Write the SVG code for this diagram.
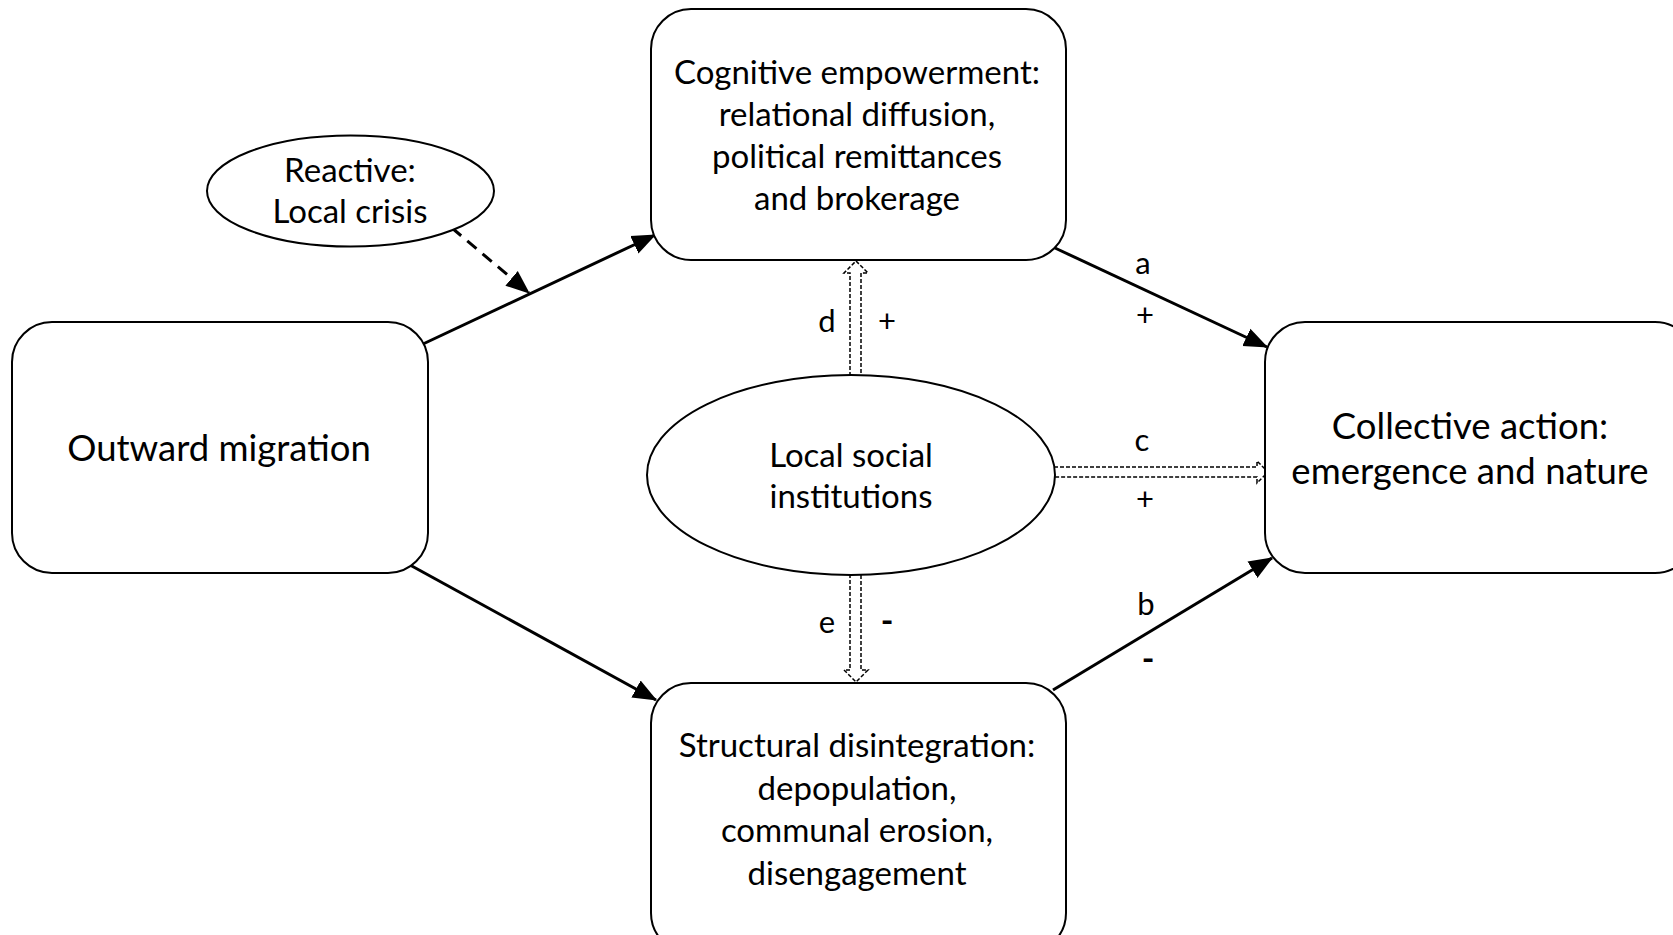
<svg xmlns="http://www.w3.org/2000/svg" width="1673" height="935" viewBox="0 0 1673 935">
  <style>
    .box { fill: #ffffff; stroke: #000000; stroke-width: 2; }
    .txt { font-family: Lato, "Open Sans", sans-serif; font-size: 33px; fill: #000000; text-anchor: middle; }
    .big { font-size: 36.5px; }
    .lbl { font-family: Lato, "Open Sans", sans-serif; font-size: 31px; fill: #000000; text-anchor: middle; }
    .neg { font-weight: 700; font-size: 34px; }
    .solid { fill: none; stroke: #000000; stroke-width: 3; }
    .dash { fill: none; stroke: #000000; stroke-width: 3; stroke-dasharray: 12 8; }
    .hollow { fill: #ffffff; stroke: #000000; stroke-width: 1.5; stroke-dasharray: 4 2; }
  </style>
  <defs>
    <marker id="arrowhead" viewBox="0 0 10 10" refX="9.5" refY="5" markerWidth="8" markerHeight="8" orient="auto">
      <path d="M0,1 L10,5 L0,9 z" fill="#000000"/>
    </marker>
  </defs>
  <rect width="1673" height="935" fill="#ffffff"/>

  <g id="connectors">
    <path class="solid" d="M423,344 L655,235" marker-end="url(#arrowhead)"/>
    <path class="dash" d="M452,228 L529,293" marker-end="url(#arrowhead)"/>
    <path class="solid" d="M410,565 L656,700" marker-end="url(#arrowhead)"/>
    <path class="solid" d="M1055,248 L1267,347" marker-end="url(#arrowhead)"/>
    <path class="solid" d="M1053,690 L1272,558" marker-end="url(#arrowhead)"/>
    <!-- hollow double-line arrows from the institutions ellipse -->
    <path class="hollow" d="M850,376 V273 H844 L856,261 L868,273 H861 V376"/>
    <path class="hollow" d="M850,574 V670 H844 L856,682 L868,670 H861 V574"/>
    <path class="hollow" d="M1054,467 H1257 V461 L1268,472 L1257,483 V477 H1054"/>
    <text class="lbl" x="1143" y="274">a</text>
    <text class="lbl" x="1145" y="326">+</text>
    <text class="lbl" x="1142" y="451">c</text>
    <text class="lbl" x="1145" y="510">+</text>
    <text class="lbl" x="1146" y="615">b</text>
    <text class="lbl neg" x="1148" y="671">-</text>
    <text class="lbl" x="827" y="332">d</text>
    <text class="lbl" x="887" y="332">+</text>
    <text class="lbl" x="827" y="633">e</text>
    <text class="lbl neg" x="887" y="633">-</text>
  </g>

  <g id="cognitive">
    <rect class="box" x="651" y="9" width="415" height="251" rx="40" ry="40"/>
    <text class="txt" x="857" y="84">Cognitive empowerment:</text>
    <text class="txt" x="857" y="126">relational diffusion,</text>
    <text class="txt" x="857" y="168">political remittances</text>
    <text class="txt" x="857" y="210">and brokerage</text>
  </g>

  <g id="reactive">
    <ellipse class="box" cx="350.5" cy="191" rx="143.5" ry="55.5"/>
    <text class="txt" x="350" y="182">Reactive:</text>
    <text class="txt" x="350" y="223">Local crisis</text>
  </g>

  <g id="outward">
    <rect class="box" x="12" y="322" width="416" height="251" rx="40" ry="40"/>
    <text class="txt big" x="219" y="461">Outward migration</text>
  </g>

  <g id="institutions">
    <ellipse class="box" cx="851" cy="475" rx="204" ry="100"/>
    <text class="txt" x="851" y="467">Local social</text>
    <text class="txt" x="851" y="508">institutions</text>
  </g>

  <g id="collective">
    <rect class="box" x="1265" y="322" width="430" height="251" rx="40" ry="40"/>
    <text class="txt big" x="1470" y="439">Collective action:</text>
    <text class="txt big" x="1470" y="484">emergence and nature</text>
  </g>

  <g id="structural">
    <rect class="box" x="651" y="683" width="415" height="270" rx="40" ry="40"/>
    <text class="txt" x="857" y="757">Structural disintegration:</text>
    <text class="txt" x="857" y="800">depopulation,</text>
    <text class="txt" x="857" y="842">communal erosion,</text>
    <text class="txt" x="857" y="885">disengagement</text>
  </g>
</svg>
